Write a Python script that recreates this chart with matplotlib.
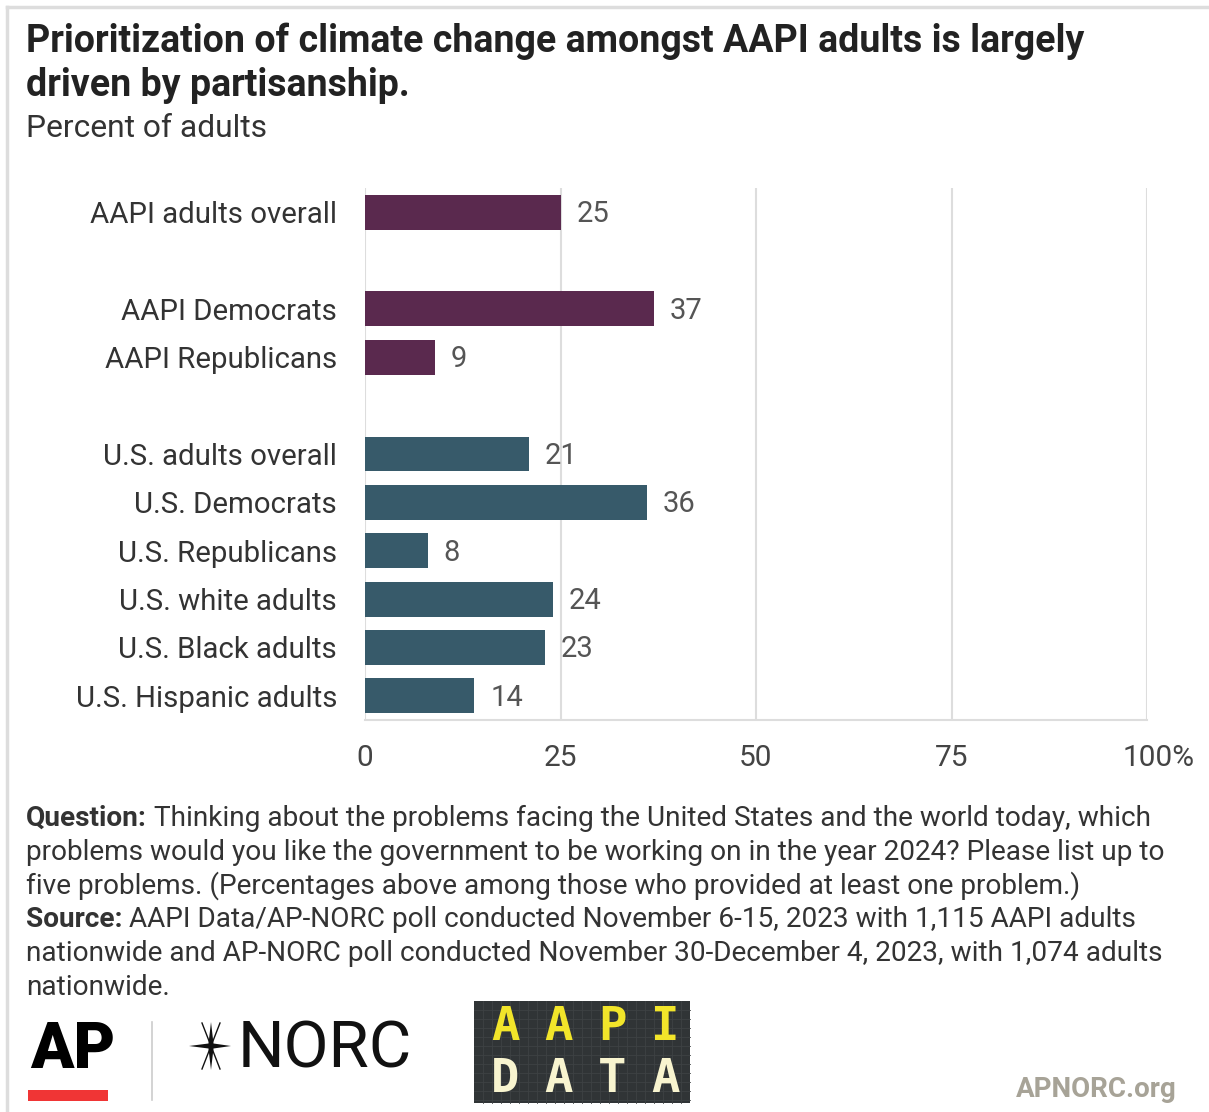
import matplotlib
matplotlib.use("Agg")
import matplotlib.pyplot as plt
from matplotlib.patches import Rectangle, Polygon
from matplotlib.lines import Line2D
import matplotlib.transforms as mtrans
import numpy as np

# ---------------- data ----------------
categories = ["AAPI adults overall", "", "AAPI Democrats", "AAPI Republicans", "",
              "U.S. adults overall", "U.S. Democrats", "U.S. Republicans",
              "U.S. white adults", "U.S. Black adults", "U.S. Hispanic adults"]
values = [25, None, 37, 9, None, 21, 36, 8, 24, 23, 14]
groups = ["aapi", None, "aapi", "aapi", None, "us", "us", "us", "us", "us", "us"]
xticks = [0, 25, 50, 75, 100]
xtick_labels = ["0", "25", "50", "75", "100%"]

title_lines = ["Prioritization of climate change amongst AAPI adults is largely",
               "driven by partisanship."]
subtitle = "Percent of adults"
foot_lines = [
    ("Question:", " Thinking about the problems facing the United States and the world today, which"),
    ("", "problems would you like the government to be working on in the year 2024? Please list up to"),
    ("", "five problems. (Percentages above among those who provided at least one problem.)"),
    ("Source:", " AAPI Data/AP-NORC poll conducted November 6-15, 2023 with 1,115 AAPI adults"),
    ("", "nationwide and AP-NORC poll conducted November 30-December 4, 2023, with 1,074 adults"),
    ("", "nationwide."),
]

colors = {"aapi": "#5A294E", "us": "#375A6A"}
FONT = "Roboto"
W, H = 1209, 1112

fig = plt.figure(figsize=(W / 100, H / 100), dpi=100)
fig.patch.set_facecolor("white")

def fx(px):
    return px / W

def fy(py):
    return 1 - py / H

ax = fig.add_axes([fx(365), fy(720), fx(1147) - fx(365), fy(188) - fy(720)])
ypos = np.arange(len(categories))
for i, (v, g) in enumerate(zip(values, groups)):
    if v is None:
        continue
    ax.barh(i, v, height=0.72, color=colors[g], zorder=3)
    ax.text(v + 2.0, i + 0.04, str(v), ha="left", va="center",
            fontsize=21, color="#555555", family=FONT, zorder=4)

ax.set_xlim(0, 100)
ax.set_ylim(10.5, -0.5)
ax.set_xticks(xticks)
ax.set_xticklabels(xtick_labels)
ax.set_yticks(ypos)
ax.set_yticklabels(categories)
ax.tick_params(axis="x", length=0, pad=17, labelsize=21.5, labelcolor="#444444")
ax.tick_params(axis="y", length=0, pad=20, labelsize=21.2, labelcolor="#333333")
for lab in ax.get_xticklabels() + ax.get_yticklabels():
    lab.set_family(FONT)
# shift "100%" so that "100" centers on the gridline
last = ax.get_xticklabels()[-1]
last.set_transform(last.get_transform() + mtrans.ScaledTranslation(12 / 100, 0, fig.dpi_scale_trans))
ax.grid(axis="x", color="#DDDDDD", linewidth=1.5, zorder=0)
ax.grid(axis="y", visible=False)
for s in ["top", "right", "left"]:
    ax.spines[s].set_visible(False)
ax.spines["bottom"].set_color("#DDDDDD")
ax.spines["bottom"].set_linewidth(1.5)
ax.set_facecolor("white")

# ---------------- titles ----------------
fig.text(fx(26), fy(52), title_lines[0], ha="left", va="baseline", fontsize=27, fontweight="bold",
         color="#222222", family=FONT)
fig.text(fx(26), fy(96), title_lines[1], ha="left", va="baseline", fontsize=27, fontweight="bold",
         color="#222222", family=FONT)
fig.text(fx(26), fy(137), subtitle, ha="left", va="baseline", fontsize=22.9,
         color="#333333", family=FONT)

# ---------------- footnotes ----------------
fig.canvas.draw()
renderer = fig.canvas.get_renderer()
base_y = 826
for k, (b, n) in enumerate(foot_lines):
    y = fy(base_y + k * 33.8)
    x0 = fx(26)
    if b:
        tb = fig.text(x0, y, b, ha="left", va="baseline", fontsize=20.2, fontweight="bold",
                      color="#333333", family=FONT)
        bb = tb.get_window_extent(renderer)
        x0 = fx(bb.x1)
    fig.text(x0, y, n, ha="left", va="baseline", fontsize=20.2, color="#333333", family=FONT)

# ---------------- frame ----------------
fig.add_artist(Line2D([fx(7), 1], [fy(7), fy(7)], color="#DDDDDD", lw=2.5))
fig.add_artist(Line2D([fx(7), fx(7)], [0, fy(7)], color="#DDDDDD", lw=2.5))

# ---------------- logos ----------------
# AP
fig.text(fx(30), fy(1068), "AP", ha="left", va="baseline", fontsize=46, fontweight="black",
         color="black", family=FONT)
fig.add_artist(Rectangle((fx(28), fy(1101)), fx(108) - fx(28), fy(1090) - fy(1101),
                         color="#F03535", lw=0))
fig.add_artist(Line2D([fx(152), fx(152)], [fy(1100), fy(1022)], color="#CCCCCC", lw=1.2))
# NORC star
cx, cy = 211, 1046
pts = [(cx, cy - 24), (cx + 2.5, cy - 2.5), (cx + 20, cy), (cx + 2.5, cy + 2.5),
       (cx, cy + 24), (cx - 2.5, cy + 2.5), (cx - 22, cy), (cx - 2.5, cy - 2.5)]
fig.add_artist(Polygon([(fx(px), fy(py)) for px, py in pts], closed=True, color="#111111", lw=0))
fig.add_artist(Line2D([fx(cx - 9), fx(cx), fx(cx + 9)], [fy(cy - 23), fy(cy), fy(cy - 23)],
                      color="#111111", lw=1.0))
fig.add_artist(Line2D([fx(cx - 9), fx(cx), fx(cx + 9)], [fy(cy + 23), fy(cy), fy(cy + 23)],
                      color="#111111", lw=1.0))
fig.text(fx(238), fy(1068), "NORC", ha="left", va="baseline", fontsize=47,
         color="#111111", family=FONT)
# AAPI DATA box
bx0, by0, bx1, by1 = 474, 1001, 690, 1103
fig.add_artist(Rectangle((fx(bx0), fy(by1)), fx(bx1) - fx(bx0), fy(by0) - fy(by1),
                         color="#303436", lw=0))
for gx in np.arange(bx0 + 9, bx1, 9):
    fig.add_artist(Line2D([fx(gx), fx(gx)], [fy(by1), fy(by0)], color="#3E4244", lw=0.6))
for gy in np.arange(by0 + 9, by1, 9):
    fig.add_artist(Line2D([fx(bx0), fx(bx1)], [fy(gy), fy(gy)], color="#3E4244", lw=0.6))
for j, ch in enumerate("AAPI"):
    fig.text(fx(505 + j * 53.5), fy(1028), ch, ha="center", va="center", fontsize=34,
             fontweight="bold", color="#F2E52A", family="DejaVu Sans Mono")
for j, ch in enumerate("DATA"):
    fig.text(fx(505 + j * 53.5), fy(1079), ch, ha="center", va="center", fontsize=34,
             fontweight="bold", color="#F8F4CF", family="DejaVu Sans Mono")
fig.text(fx(1177), fy(1097), "APNORC.org", ha="right", va="baseline", fontsize=20,
         fontweight="bold", color="#A7A397", family=FONT)

fig.savefig("out.png", dpi=100, facecolor="white")
